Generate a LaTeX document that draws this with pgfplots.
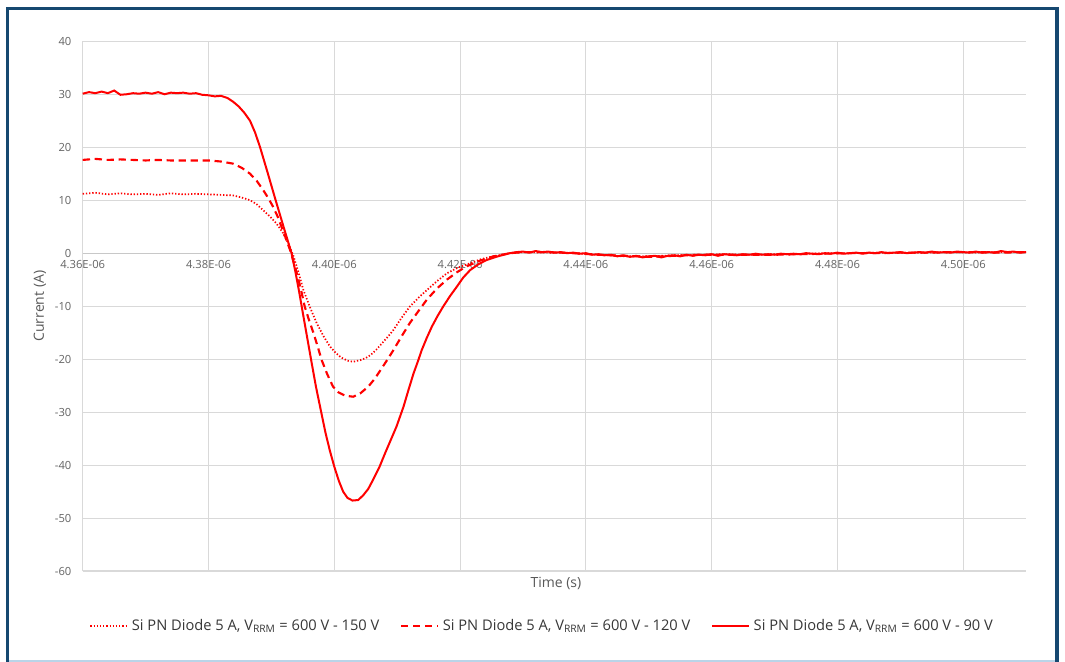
\documentclass[border=0pt]{standalone}
\usepackage{fontspec}
\setmainfont{Open Sans}
\usepackage{pgfplots}
\usepackage{pgfplotstable}
\pgfplotsset{compat=1.18}

\definecolor{framec}{RGB}{22,72,112}
\definecolor{framelight}{RGB}{185,212,232}
\definecolor{gridc}{RGB}{217,217,217}
\definecolor{zeroc}{RGB}{200,200,200}
\definecolor{tickc}{RGB}{100,100,100}
\definecolor{labc}{RGB}{89,89,89}
\definecolor{legc}{RGB}{55,55,55}
\definecolor{curvec}{RGB}{255,0,0}

% time in ns, current in A
\pgfplotstableread{
t I
4360 11.2
4362 11.4
4364 11.1
4366 11.3
4368 11.1
4370 11.2
4372 11.0
4374 11.3
4376 11.1
4378 11.2
4380 11.1
4382 11.0
4383.9 10.9
4385.3 10.5
4386.6 10.0
4387.7 9.2
4388.7 8.1
4389.8 6.9
4390.8 5.6
4391.8 3.9
4392.7 1.8
4393.5 -0.5
4394.3 -3.6
4395.1 -7.0
4396.2 -10.4
4397.2 -13.2
4398.3 -15.7
4399.3 -17.6
4400.2 -18.8
4401.1 -19.7
4402.1 -20.3
4403.0 -20.5
4404.1 -20.2
4405.0 -19.8
4405.8 -19.2
4406.7 -18.2
4407.6 -17.0
4408.5 -15.8
4409.4 -14.5
4410.7 -12.2
4412.0 -10.1
4413.4 -8.4
4414.7 -7.0
4416.3 -5.3
4417.9 -3.8
4419.7 -2.7
4421.6 -1.9
4423.4 -1.1
4425.3 -0.6
4427.5 -0.1
4430 0.2
4434 0.1
4438 0.0
4442 -0.3
4446 -0.6
4450 -0.6
4454 -0.4
4458 -0.3
4462 -0.2
4466 -0.3
4470 -0.2
4474 -0.2
4478 0.0
4482 0.0
4486 0.1
4490 0.1
4494 0.1
4498 0.2
4502 0.1
4506 0.2
4510 0.2
}\dataA

\pgfplotstableread{
t I
4360 17.6
4362 17.8
4364 17.6
4366 17.7
4368 17.6
4370 17.5
4372 17.6
4374 17.5
4376 17.5
4378 17.5
4380 17.5
4382 17.3
4383.9 16.9
4385.3 16.1
4386.6 15.0
4387.7 13.6
4388.7 11.9
4389.5 10.4
4390.3 8.7
4391.0 6.9
4391.6 5.0
4392.3 2.8
4393.0 0.5
4393.6 -1.9
4394.2 -4.5
4394.8 -7.4
4395.3 -10.1
4396.0 -12.7
4396.7 -15.1
4397.4 -17.8
4398.0 -20.2
4398.9 -22.9
4399.8 -25.2
4400.7 -26.3
4401.7 -26.9
4403.0 -27.1
4404.1 -26.5
4405.4 -25.2
4406.5 -23.6
4407.5 -21.8
4408.5 -20.0
4409.4 -18.3
4410.7 -15.7
4412.0 -13.2
4413.4 -10.9
4414.7 -8.8
4416.3 -6.7
4417.9 -5.0
4419.5 -3.6
4421.0 -2.5
4423.2 -1.4
4425.3 -0.6
4428 0.0
4430 0.2
4434 0.2
4438 0.0
4442 -0.3
4446 -0.5
4450 -0.7
4454 -0.5
4458 -0.3
4462 -0.3
4466 -0.3
4470 -0.3
4474 -0.2
4478 -0.1
4482 0.0
4486 0.0
4490 0.1
4494 0.1
4498 0.2
4502 0.2
4506 0.1
4510 0.2
}\dataB

\pgfplotstableread{
t I
4360 30.1
4361 30.4
4362 30.2
4363 30.5
4364 30.2
4365 30.7
4366 29.9
4367 30.0
4368 30.2
4369 30.1
4370 30.3
4371 30.1
4372 30.4
4373 30.0
4374 30.3
4375 30.2
4376 30.3
4377 30.1
4378 30.2
4379 29.9
4380 29.8
4381 29.6
4382 29.7
4383 29.3
4383.9 28.6
4384.8 27.7
4385.7 26.5
4386.6 25.0
4387.4 22.8
4388.2 20.0
4389.4 15.2
4390.6 10.3
4391.9 5.1
4393.2 0.0
4393.8 -3.4
4394.4 -7.2
4395.0 -11.3
4395.7 -16.0
4396.4 -20.7
4397.1 -25.3
4397.9 -29.9
4398.6 -33.9
4399.3 -37.3
4400.0 -40.3
4400.7 -42.9
4401.4 -45.0
4402.1 -46.2
4402.9 -46.7
4403.8 -46.6
4404.6 -45.7
4405.4 -44.5
4406.2 -42.7
4407.2 -40.3
4408.1 -37.7
4409.0 -35.2
4409.9 -32.7
4411.0 -29.0
4411.8 -25.8
4412.6 -22.7
4413.3 -20.4
4413.9 -18.3
4414.7 -16.0
4415.5 -13.9
4416.4 -11.9
4417.3 -10.1
4418.4 -8.1
4419.5 -6.3
4420.5 -4.6
4421.6 -3.2
4422.9 -2.1
4424.2 -1.3
4426.0 -0.6
4427.9 0.0
4429 0.2
4430 0.3
4431 0.1
4432 0.4
4433 0.2
4434 0.3
4435 0.1
4436 0.2
4437 0.0
4438 0.1
4439 -0.1
4440 0.0
4441 -0.3
4442 -0.2
4443 -0.4
4444 -0.3
4445 -0.6
4446 -0.4
4447 -0.7
4448 -0.5
4449 -0.8
4450 -0.6
4451 -0.5
4452 -0.8
4453 -0.5
4454 -0.4
4455 -0.6
4456 -0.3
4457 -0.5
4458 -0.3
4459 -0.4
4460 -0.2
4461 -0.5
4462 -0.2
4463 -0.3
4464 -0.4
4465 -0.2
4466 -0.3
4467 -0.1
4468 -0.3
4469 -0.2
4470 -0.3
4471 -0.1
4472 -0.2
4473 -0.1
4474 -0.2
4475 0.0
4476 -0.1
4477 -0.2
4478 0.0
4479 -0.1
4480 0.1
4481 -0.1
4482 0.0
4483 0.1
4484 -0.1
4485 0.1
4486 0.0
4487 0.2
4488 0.0
4489 0.1
4490 0.2
4491 0.0
4492 0.1
4493 0.2
4494 0.1
4495 0.3
4496 0.1
4497 0.2
4498 0.1
4499 0.3
4500 0.2
4501 0.1
4502 0.3
4503 0.1
4504 0.2
4505 0.1
4506 0.4
4507 0.2
4508 0.3
4509 0.1
4510 0.2
}\dataC

\begin{document}
\begin{tikzpicture}
\path[use as bounding box] (0bp,0bp) rectangle (798.75bp,-496.5bp);
\fill[white] (0bp,0bp) rectangle (798.75bp,-496.5bp);
\draw[framelight, line width=1.5bp] (5.25bp,-495.4bp) -- (793.5bp,-495.4bp);
\draw[framec, line width=2.4bp] (5.5bp,-496.5bp) -- (5.5bp,-6.5bp) -- (792.8bp,-6.5bp) -- (792.8bp,-496.5bp);

\begin{axis}[
    at={(62.025bp,-428.25bp)}, anchor=south west,
    scale only axis,
    width=707.6bp, height=397.3bp,
    xmin=4360, xmax=4510,
    ymin=-60, ymax=40,
    axis x line*=middle,
    axis y line*=left,
    hide obscured x ticks=false,
    x axis line style={draw=zeroc, line width=0.8bp},
    y axis line style={draw=gridc, line width=0.8bp},
    xtick={4360,4380,4400,4420,4440,4460,4480,4500},
    xticklabels={4.36E-06,4.38E-06,4.40E-06,4.42E-06,4.44E-06,4.46E-06,4.48E-06,4.50E-06},
    ytick={-60,-50,...,40},
    major tick length=0pt,
    grid=major,
    major grid style={draw=gridc, line width=0.8bp},
    /pgf/number format/assume math mode=true,
    ticklabel style={font=\fontsize{8.4bp}{10bp}\selectfont, text=tickc},
    xticklabel style={yshift=-2bp},
    yticklabel style={xshift=-5bp},
    xlabel={Time (s)},
    ylabel={Current (A)},
    label style={font=\fontsize{10.5bp}{12bp}\selectfont, text=labc},
    xlabel style={at={(axis description cs:0.5016,-0.0227)}, anchor=center},
    ylabel style={at={(axis description cs:-0.0453,0.5)}, anchor=center},
    legend columns=3,
    legend style={draw=none, fill=none,
        at={(0.487,-0.104)}, anchor=center,
        font=\fontsize{11bp}{13bp}\selectfont, text=legc,
        /tikz/every odd column/.append style={column sep=1bp},
        /tikz/every even column/.append style={column sep=14bp},
        nodes={inner xsep=1.5bp}},
    legend image code/.code={\draw[#1] (0bp,0bp) -- (28bp,0bp);},
    clip=false,
]
\addplot[color=curvec, line width=1.3bp, dash pattern=on 1bp off 1.4bp] table[x=t,y=I] {\dataA};
\addlegendentry{Si PN Diode 5 A, V\textsubscript{RRM} = 600 V - 150 V}
\addplot[color=curvec, line width=1.6bp, dash pattern=on 5.5bp off 3.5bp] table[x=t,y=I] {\dataB};
\addlegendentry{Si PN Diode 5 A, V\textsubscript{RRM} = 600 V - 120 V}
\addplot[color=curvec, line width=1.5bp] table[x=t,y=I] {\dataC};
\addlegendentry{Si PN Diode 5 A, V\textsubscript{RRM} = 600 V - 90 V}
\end{axis}
\end{tikzpicture}
\end{document}
